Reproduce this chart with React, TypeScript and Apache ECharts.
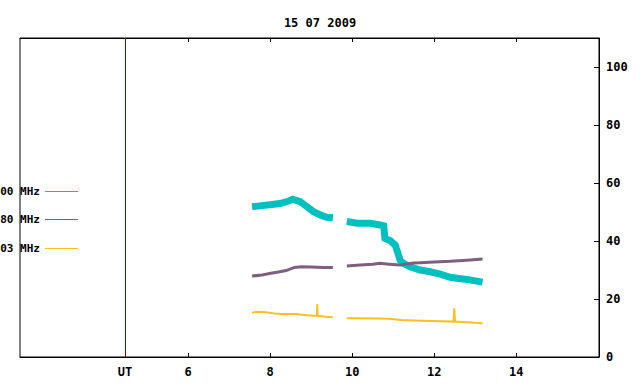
import React, { useEffect, useRef } from "react";
import * as echarts from "echarts";

const title = "15 07 2009";
const seriesNames = ["00 MHz", "80 MHz", "03 MHz"];
const seriesColors = ["#00c0c0", "#7f5f80", "#ffc020"];

const xTicks = [6, 8, 10, 12, 14];
const utHour = 4.46;
const yTicks = [0, 20, 40, 60, 80, 100];

const hoursA = [7.56, 7.8, 8.05, 8.27, 8.45, 8.55, 8.73, 8.9, 9.06, 9.22, 9.38, 9.53, 9.7, 9.87, 10.12, 10.44, 10.68, 10.77, 10.8, 10.93, 11.05, 11.09, 11.13, 11.17, 11.25, 11.41, 11.66, 11.9, 12.15, 12.39, 12.65, 12.87, 13.18];
const valuesA = [51.8, 52.2, 52.6, 53.0, 53.8, 54.4, 53.6, 51.8, 50.1, 49.0, 48.2, 48.0, null, 46.7, 46.1, 46.1, 45.5, 45.2, 40.9, 40.1, 38.6, 36.9, 35.2, 33.4, 32.3, 31.1, 30.0, 29.4, 28.6, 27.5, 27.0, 26.6, 25.8];

const hoursB = [7.56, 7.8, 8.02, 8.2, 8.39, 8.59, 8.76, 9.0, 9.3, 9.53, 9.7, 9.87, 10.2, 10.5, 10.68, 10.9, 11.17, 11.5, 11.66, 12.0, 12.39, 12.8, 13.18];
const valuesB = [27.9, 28.3, 28.9, 29.3, 29.8, 30.9, 31.1, 31.0, 30.9, 30.9, null, 31.4, 31.7, 32.0, 32.3, 32.0, 31.7, 32.4, 32.5, 32.8, 33.0, 33.4, 33.8];

const hoursC = [7.56, 7.7, 7.9, 8.1, 8.3, 8.6, 8.9, 9.1, 9.14, 9.15, 9.16, 9.3, 9.53, 9.7, 9.87, 10.2, 10.6, 10.9, 11.2, 11.5, 11.9, 12.2, 12.47, 12.49, 12.51, 12.8, 13.18];
const valuesC = [15.3, 15.6, 15.4, 15.0, 14.8, 14.8, 14.4, 14.2, 14.2, 18.3, 14.2, 14.0, 13.7, null, 13.4, 13.4, 13.3, 13.2, 12.8, 12.6, 12.4, 12.3, 12.2, 16.8, 12.2, 12.0, 11.6];

const FONT = "DejaVu Sans Mono";

function pairs(h: number[], v: (number | null)[]) {
  return h.map((x, i) => [x, v[i] === null ? "-" : v[i]]);
}

export default function App() {
  const ref = useRef<HTMLDivElement>(null);
  useEffect(() => {
    document.body.style.margin = "0";
    const chart = echarts.init(ref.current!, null, { renderer: "svg" });
    const textStyle = { fontFamily: FONT, fontWeight: "bold" as const, fontSize: 12, color: "#000" };
    const legendY = [191, 219, 248];
    const graphic: any[] = [];
    seriesNames.forEach((n, i) => {
      graphic.push({
        type: "text",
        x: 40,
        y: legendY[i],
        style: { text: n, font: `bold 11px "${FONT}"`, fill: "#000", align: "right", verticalAlign: "middle" },
        z: 1,
      });
      graphic.push({
        type: "line",
        shape: { x1: 45, y1: legendY[i] + 0.5, x2: 78, y2: legendY[i] + 0.5 },
        style: { stroke: seriesColors[i], lineWidth: 1 },
      });
    });
    const data = [pairs(hoursA, valuesA), pairs(hoursB, valuesB), pairs(hoursC, valuesC)];
    const widths = [7, 3, 2];
    chart.setOption({
      animation: false,
      backgroundColor: "#fff",
      title: {
        text: title,
        left: "center",
        top: 12,
        textStyle: { ...textStyle },
      },
      grid: {
        left: 20,
        right: 41,
        top: 38,
        bottom: 27,
        show: true,
        borderColor: "#000",
        borderWidth: 1,
      },
      graphic,
      xAxis: [
        {
          type: "value",
          min: 1.9,
          max: 16.02,
          position: "bottom",
          splitLine: { show: false },
          axisLine: { show: true, lineStyle: { color: "#000" } },
          axisTick: { show: true, inside: true, length: 4, customValues: xTicks, lineStyle: { color: "#000" } },
          axisLabel: {
            ...textStyle,
            margin: 9,
            customValues: [utHour, ...xTicks],
            formatter: (v: number) => (v < 5 ? "{ut|UT}" : String(v)),
            rich: { ut: { ...textStyle, padding: [0, 0, 8, 0] } },
          },
        },
        {
          type: "value",
          min: 1.9,
          max: 16.02,
          position: "top",
          splitLine: { show: false },
          axisLine: { show: true, lineStyle: { color: "#000" } },
          axisTick: { show: true, inside: true, length: 4, customValues: xTicks, lineStyle: { color: "#000" } },
          axisLabel: { show: false },
        },
      ],
      yAxis: {
        type: "value",
        min: 0,
        max: 110,
        position: "right",
        splitLine: { show: false },
        axisLine: { show: true, lineStyle: { color: "#000" } },
        axisTick: { show: true, inside: true, length: 5, customValues: yTicks, lineStyle: { color: "#000" } },
        axisLabel: { ...textStyle, margin: 7, customValues: yTicks },
      },
      series: data.map((d, i) => ({
        type: "line",
        name: seriesNames[i],
        data: d,
        showSymbol: false,
        symbol: "none",
        connectNulls: false,
        lineStyle: { color: seriesColors[i], width: widths[i], join: "miter" },
        itemStyle: { color: seriesColors[i] },
        markLine:
          i === 0
            ? {
                silent: true,
                symbol: "none",
                label: { show: false },
                lineStyle: { color: "#8b0000", type: "solid", width: 1 },
                data: [{ xAxis: utHour }],
              }
            : undefined,
      })),
    });
    return () => chart.dispose();
  }, []);
  return <div ref={ref} style={{ width: 640, height: 384 }} />;
}
